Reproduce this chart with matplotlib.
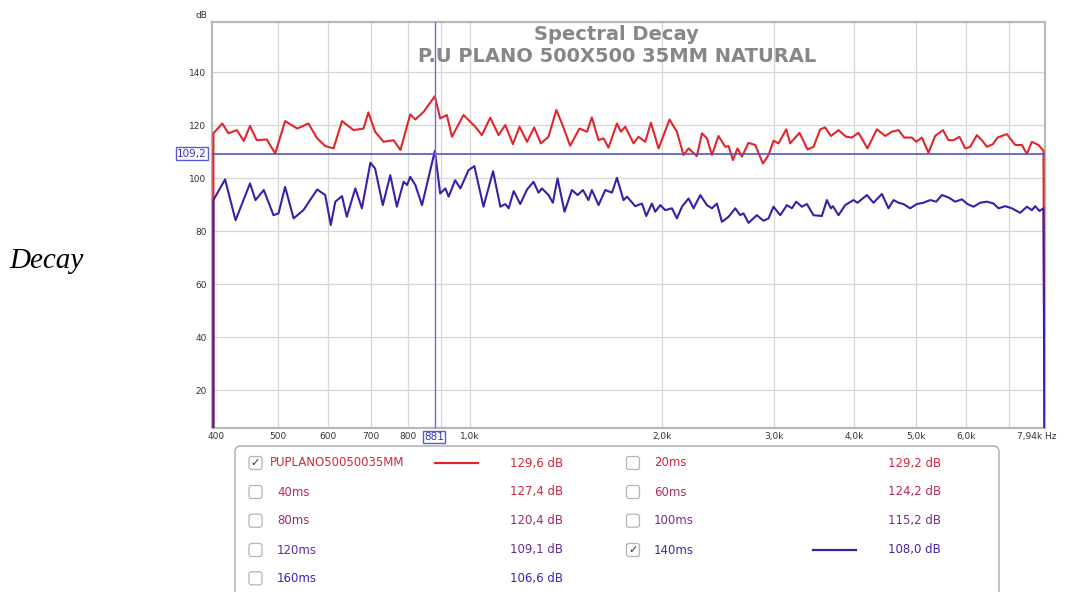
import matplotlib
matplotlib.use("Agg")
import matplotlib.pyplot as plt
from matplotlib.patches import FancyBboxPatch
from matplotlib.lines import Line2D

# ---------------- data ----------------
red_freq = [396, 396, 409, 418, 431, 442, 452, 463, 480, 495, 513, 536, 558, 576, 593, 611, 630,
            657, 681, 693, 710, 732, 759, 778, 806, 821, 846, 881, 898, 920, 937, 977, 1019,
            1044, 1076, 1109, 1136, 1168, 1196, 1229, 1261, 1292, 1328, 1366, 1394, 1436, 1485,
            1526, 1553, 1591, 1620, 1649, 1700, 1725, 1752, 1805, 1838, 1883, 1922, 1976, 2056,
            2111, 2162, 2202, 2269, 2311, 2353, 2396, 2453, 2514, 2544, 2584, 2628, 2670, 2734,
            2801, 2880, 2939, 2992, 3047, 3133, 3178, 3287, 3383, 3457, 3542, 3606, 3681, 3784,
            3890, 3971, 4067, 4201, 4346, 4479, 4588, 4699, 4797, 4932, 5009, 5113, 5236, 5364,
            5516, 5628, 5731, 5856, 5978, 6087, 6236, 6350, 6465, 6607, 6718, 6950, 7161, 7336,
            7470, 7606, 7789, 7931, 7960]
red_db = [0, 116.9, 120.6, 116.9, 118.1, 114.0, 119.7, 114.3, 114.6, 109.3, 121.5, 118.7, 120.6,
          115.0, 112.1, 111.2, 121.5, 118.1, 118.7, 124.8, 117.5, 113.7, 114.3, 110.6, 124.0,
          122.1, 125.0, 130.9, 122.5, 123.8, 115.6, 123.8, 119.4, 116.2, 122.8, 116.2, 120.0,
          112.8, 119.4, 113.7, 119.1, 113.1, 115.6, 125.7, 120.6, 112.2, 118.7, 117.5, 122.9,
          114.3, 115.0, 111.5, 120.6, 117.5, 119.4, 113.1, 115.6, 113.7, 120.9, 111.2, 122.1,
          117.5, 108.7, 111.2, 108.3, 116.9, 115.0, 108.7, 115.9, 111.8, 112.1, 106.8, 111.2,
          108.1, 113.3, 112.5, 105.5, 108.7, 114.1, 113.1, 118.4, 113.1, 117.1, 110.8, 111.8,
          118.4, 119.1, 115.9, 118.1, 115.6, 115.3, 117.1, 111.2, 118.4, 115.9, 117.5, 118.1,
          115.3, 115.3, 113.7, 115.3, 109.6, 115.9, 118.1, 114.3, 114.3, 115.6, 111.2, 111.8,
          116.2, 114.3, 111.8, 112.8, 115.3, 116.6, 112.5, 112.5, 109.1, 113.7, 112.5, 110.3, 0]

blue_freq = [396, 396, 413, 429, 452, 461, 475, 492, 501, 513, 529, 548, 576, 593, 605, 615, 630,
             641, 661, 677, 698, 710, 730, 750, 768, 787, 797, 806, 821, 841, 881, 898, 915, 926,
             948, 966, 995, 1016, 1050, 1087, 1116, 1136, 1150, 1171, 1199, 1229, 1258, 1281,
             1297, 1328, 1349, 1372, 1407, 1445, 1475, 1504, 1534, 1553, 1591, 1630, 1670, 1700,
             1741, 1763, 1816, 1861, 1890, 1929, 1952, 1988, 2024, 2074, 2111, 2150, 2202, 2242,
             2297, 2353, 2396, 2439, 2484, 2544, 2606, 2653, 2685, 2734, 2818, 2886, 2939, 2992,
             3066, 3141, 3198, 3248, 3315, 3376, 3457, 3563, 3628, 3681, 3708, 3784, 3876, 3994,
             4053, 4192, 4293, 4426, 4532, 4615, 4699, 4784, 4901, 5021, 5142, 5268, 5384, 5496,
             5628, 5766, 5908, 6028, 6160, 6311, 6465, 6622, 6742, 6907, 7076, 7291, 7470, 7606,
             7698, 7818, 7931, 7960]
blue_db = [0, 91.7, 99.5, 84.1, 98.0, 91.7, 95.5, 86.0, 86.7, 96.7, 84.8, 87.9, 95.7, 93.6, 82.3,
           91.1, 93.2, 85.4, 96.1, 88.6, 105.8, 103.6, 89.8, 101.1, 89.2, 98.6, 97.4, 100.5, 97.4,
           89.8, 110.3, 94.2, 96.1, 93.0, 99.2, 96.1, 103.0, 104.5, 89.2, 102.6, 89.2, 90.2, 88.6,
           95.1, 90.2, 95.7, 98.6, 94.5, 96.1, 93.6, 90.7, 99.9, 87.3, 95.5, 93.6, 95.5, 91.7,
           95.5, 89.8, 95.5, 94.5, 100.1, 91.7, 93.0, 89.4, 90.4, 85.7, 90.4, 87.3, 89.8, 87.9,
           88.6, 84.8, 89.2, 92.3, 88.6, 93.6, 89.8, 88.6, 90.4, 83.5, 85.4, 88.6, 86.0, 86.7,
           83.1, 86.0, 83.9, 84.8, 89.2, 86.0, 89.8, 88.6, 91.1, 89.2, 90.2, 86.0, 85.7, 91.7,
           88.6, 89.4, 86.0, 89.8, 91.7, 90.7, 93.6, 90.7, 94.0, 88.6, 91.7, 90.7, 90.2, 88.6,
           90.2, 90.7, 91.7, 91.1, 93.6, 92.7, 91.1, 92.0, 90.2, 89.2, 90.7, 91.1, 90.4, 88.6,
           89.4, 88.6, 86.9, 89.2, 87.9, 89.4, 87.6, 88.6, 0]

cursor_freq = 881
cursor_db = 109.2

x_ticks = [400, 500, 600, 700, 800, 1000, 2000, 3000, 4000, 5000, 6000]
x_tick_labels = ["400", "500", "600", "700", "800", "1,0k", "2,0k", "3,0k", "4,0k",
                 "5,0k", "6,0k"]
x_grid = [500, 600, 700, 800, 900, 1000, 2000, 3000, 4000, 5000, 6000, 7000]
x_end_label = "7,94k Hz"
y_ticks = [20, 40, 60, 80, 100, 120, 140]

title_line1 = "Spectral Decay"
title_line2 = "P.U PLANO 500X500 35MM NATURAL"

legend_labels = ["PUPLANO50050035MM", "20ms", "40ms", "60ms", "80ms", "100ms", "120ms",
                 "140ms", "160ms"]
legend_values = ["129,6 dB", "129,2 dB", "127,4 dB", "124,2 dB", "120,4 dB", "115,2 dB",
                 "109,1 dB", "108,0 dB", "106,6 dB"]
legend_checked = [True, False, False, False, False, False, False, True, False]
legend_colors = ["#d42832", "#d2283c", "#c32846", "#b42a5a", "#962a6e", "#7d2a8c", "#642a98",
                 "#4b23a5", "#3c23b4"]

RED = "#e1262b"
BLUE = "#3c1ea8"

# ---------------- figure ----------------
W, H = 1065, 592
fig = plt.figure(figsize=(W / 100, H / 100), dpi=100)
fig.patch.set_facecolor("white")

L, R, T, B = 212, 1045, 22, 428
ax = fig.add_axes([L / W, 1 - B / H, (R - L) / W, (B - T) / H])
ax.set_xscale("log")
ax.set_xlim(394, 7975)
ax.set_ylim(5.7, 158.9)

for g in x_grid:
    ax.axvline(g, color="#d6d6d6", lw=0.9, zorder=0)
for g in y_ticks:
    ax.axhline(g, color="#d6d6d6", lw=0.9, zorder=0)

ax.plot(red_freq, red_db, color=RED, lw=1.5, solid_joinstyle="round", zorder=3)
ax.plot(blue_freq, blue_db, color=BLUE, lw=1.5, solid_joinstyle="round", zorder=4)

ax.axhline(cursor_db, color="#5656b4", lw=1.2, zorder=5)
ax.axvline(cursor_freq, color="#6a6ae4", lw=1.0, zorder=5)

ax.set_xticks(x_ticks)
ax.set_xticklabels(x_tick_labels)
ax.xaxis.set_minor_locator(matplotlib.ticker.NullLocator())
ax.set_yticks(y_ticks)
ax.set_yticklabels([str(v) for v in y_ticks])
ax.tick_params(length=0, labelsize=6.5, labelcolor="#333333")
ax.tick_params(axis="y", pad=4)
ax.tick_params(axis="x", pad=3)
for s in ax.spines.values():
    s.set_color("#b8b8b8")
    s.set_linewidth(1.6)

# ---------------- overlay in pixel coordinates ----------------
ov = fig.add_axes([0, 0, 1, 1], facecolor="none")
ov.set_xlim(0, W)
ov.set_ylim(H, 0)
ov.axis("off")

ov.text(616, 35, title_line1, ha="center", va="center", fontsize=14, fontweight="bold",
        color="#878787")
ov.text(617, 56, title_line2, ha="center", va="center", fontsize=14, fontweight="bold",
        color="#878787")

ov.text(46, 261, "Decay", ha="center", va="center", fontsize=21, style="italic",
        family="Liberation Serif", color="black")

ov.text(201, 16, "dB", ha="center", va="center", fontsize=6.5, color="#333333")
ov.text(1017, 437, x_end_label, ha="left", va="center", fontsize=6.5, color="#333333")

box_kw = dict(boxstyle="square,pad=0.12", fc="white", ec="#5a5ad2", lw=1.0)
ov.text(192, 153.5, "109,2", ha="center", va="center", fontsize=7.5, color="#3434c0",
        bbox=box_kw, zorder=10)
ov.text(434, 437, "881", ha="center", va="center", fontsize=7.5, color="#3434c0",
        bbox=box_kw, zorder=10)

# legend panel
panel = FancyBboxPatch((235, 446), 764, 170, boxstyle="round,pad=0,rounding_size=6",
                       fc="white", ec="#a8a8a8", lw=1.0, clip_on=False)
ov.add_patch(panel)

row_y = [463, 492, 520.7, 550, 578.3]
cb_x = [255.5, 633]
lab_x = [277, 654]
val_x = [510, 888]
line_x = [(435, 478), (813, 856)]
for i, (lab, val, chk, col) in enumerate(zip(legend_labels, legend_values, legend_checked,
                                             legend_colors)):
    r, c = divmod(i, 2)
    y = row_y[r]
    cb = FancyBboxPatch((cb_x[c] - 6.5, y - 6.5), 13, 13,
                        boxstyle="round,pad=0,rounding_size=2.5",
                        fc="white", ec="#b4b4b4", lw=0.9)
    ov.add_patch(cb)
    if chk:
        ov.text(cb_x[c], y, "\u2713", ha="center", va="center", fontsize=8,
                color="#333333", family="DejaVu Sans")
    lx = lab_x[c] if not (r == 0 and c == 0) else 270
    ov.text(lx, y, lab, ha="left", va="center", fontsize=8.5, color=col)
    ov.text(val_x[c], y, val, ha="left", va="center", fontsize=8.5, color=col)
    if chk:
        x0, x1 = line_x[c]
        ov.add_line(Line2D([x0, x1], [y, y], color=RED if i == 0 else BLUE, lw=1.6))

fig.savefig("out.png", dpi=100)
